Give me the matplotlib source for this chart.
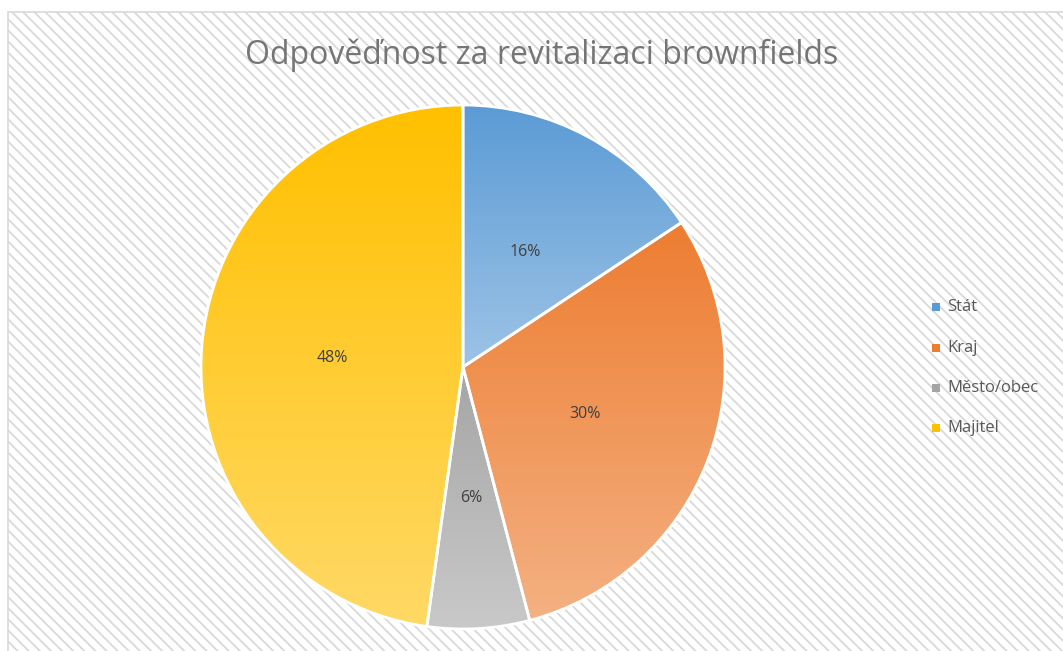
import numpy as np
import matplotlib.pyplot as plt
from matplotlib.colors import LinearSegmentedColormap
from matplotlib.patches import Rectangle

labels = ["Stát", "Kraj", "Město/obec", "Majitel"]
values = [15.7, 30.2, 6.3, 47.8]
top_colors = ["#5B9BD5", "#ED7D31", "#A5A5A5", "#FFC000"]
bottom_colors = ["#9DC3E6", "#F4B183", "#C9C9C9", "#FFD966"]
title = "Odpověďnost za revitalizaci brownfields"

plt.rcParams['font.family'] = ['Open Sans', 'DejaVu Sans']
plt.rcParams['hatch.linewidth'] = 1.3
plt.rcParams['hatch.color'] = "#E2E2E2"

fig_dpi = 100
W, H = 1063, 651
fig = plt.figure(dpi=fig_dpi, figsize=(W/fig_dpi, H/fig_dpi))
fig.patch.set_facecolor("white")

# chart area with diagonal stripes
bg = Rectangle((8/W, -0.1), 1.2, 1 - 12/H + 0.1, transform=fig.transFigure,
               facecolor="white", edgecolor="#D9D9D9", hatch="\\\\\\", linewidth=1.2, zorder=-1)
fig.patches.append(bg)

cx, cy, r = 463, 367, 262
ax = fig.add_axes([(cx - r)/W, (H - cy - r)/H, 2*r/W, 2*r/H])
ax.set_zorder(2)

wedges, _ = ax.pie(values, startangle=90, counterclock=False, radius=1,
                   wedgeprops=dict(facecolor="none", edgecolor="white", linewidth=2, zorder=3))

# vertical gradient inside every slice
for w, c0, c1 in zip(wedges, top_colors, bottom_colors):
    t = np.radians(np.linspace(w.theta1, w.theta2, 200))
    xs = np.concatenate([[0], np.cos(t)])
    ys = np.concatenate([[0], np.sin(t)])
    cmap = LinearSegmentedColormap.from_list("g", [c1, c0])
    grad = np.linspace(1, 0, 256).reshape(-1, 1)
    im = ax.imshow(grad, cmap=cmap, extent=(xs.min(), xs.max(), ys.min(), ys.max()),
                   aspect="auto", zorder=2, vmin=0, vmax=1)
    im.set_clip_path(w)

ax.set_xlim(-1, 1)
ax.set_ylim(-1, 1)
ax.axis("off")

# percentage labels
tot = sum(values)
ang = 90
for v in values:
    mid = ang - v / tot * 360 / 2
    ang -= v / tot * 360
    ax.text(0.5*np.cos(np.radians(mid)), 0.5*np.sin(np.radians(mid)),
            "{:.0f}%".format(v), ha="center", va="center", fontsize=11.5, color="#404040", zorder=4)

fig.text(542/W, 1 - 55/H, title, ha="center", va="center", fontsize=23, color="#757575")

leg_y = [307, 348, 388, 428]
for lab, c0, y in zip(labels, top_colors, leg_y):
    fig.patches.append(Rectangle((932/W, 1 - (y + 4)/H), 8/W, 8/H, transform=fig.transFigure,
                                 facecolor=c0, edgecolor="none"))
    fig.text(947/W, 1 - y/H, lab, ha="left", va="center", fontsize=12, color="#595959")

fig.savefig("out.png", dpi=fig_dpi)
